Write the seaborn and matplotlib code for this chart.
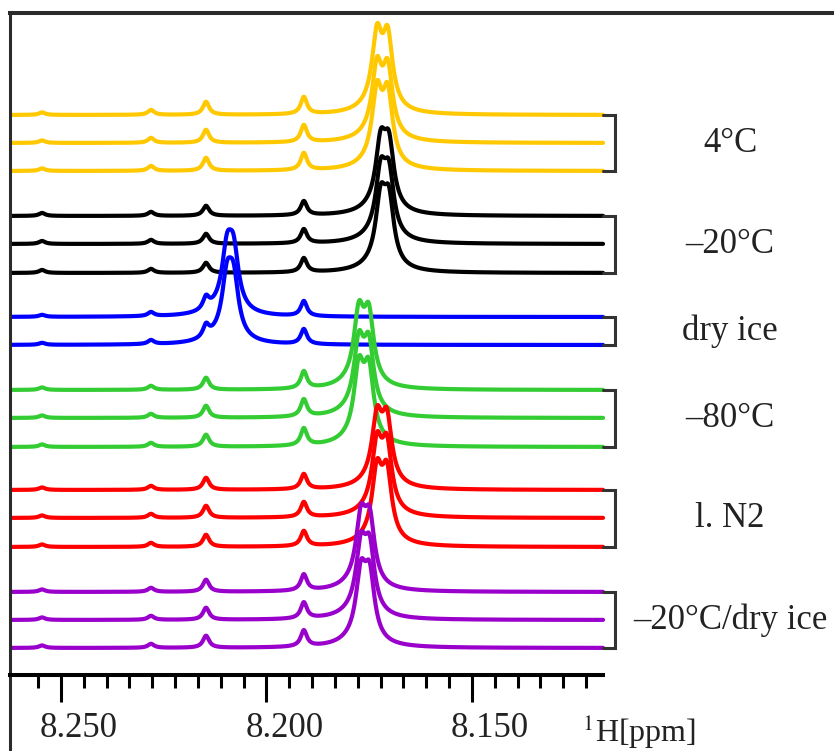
# Espectros 1H apilados: región 8.26 - 8.12 ppm para distintas condiciones de almacenamiento
import numpy as np
import pandas as pd
import seaborn as sns
import matplotlib.pyplot as plt
from matplotlib.transforms import ScaledTranslation, blended_transform_factory

# ---------------- datos ----------------
grupos = ['4°C', '–20°C', 'dry ice', '–80°C', 'l. N2', '–20°C/dry ice']
colores = ['#FFC800', '#000000', '#0000FF', '#33CC33', '#FF0000', '#9900CC']

# linea base de cada espectro (apilado vertical)
desplazamientos = [[636, 608, 580], [535, 507, 478], [434, 406],
                   [361, 333, 304], [261, 233, 204], [159, 131, 103]]
# altura total del pico principal de cada espectro
alturas_pico = [[90, 85, 89], [87, 86, 89], [86, 86],
                [88, 86, 90], [83, 85, 87], [87, 87, 88]]
# doblete principal (ppm)
pico_a = [8.1731, 8.1722, 8.2096, 8.1775, 8.1731, 8.1770]
pico_b = [8.1705, 8.1702, 8.2080, 8.1751, 8.1707, 8.1749]
# picos menores (ppm) y sus alturas por grupo
picos_menores = [8.2546, 8.2281, 8.2147, 8.1909]
alturas_menores = [[2.5, 5, 13, 17], [3, 4, 10, 14], [2, 4, 12, 15],
                   [2.5, 4, 12, 17], [2.5, 4, 12, 15], [2.5, 4, 12, 16]]
hombro = 8          # altura de la base ancha bajo el pico principal

ticks_mayores = [8.250, 8.200, 8.150]
x_izq, x_fin, x_der = 8.2624, 8.1181, 8.0619


def lorentz(x, c, w):
    return 1.0 / (1.0 + ((x - c) / (w / 2)) ** 2)


ppm = np.linspace(x_izq, x_fin, 1600)

filas = []
for g, nombre in enumerate(grupos):
    for k, base in enumerate(desplazamientos[g]):
        doblete = lorentz(ppm, pico_a[g], 0.0029) + lorentz(ppm, pico_b[g], 0.0029)
        doblete = doblete / doblete.max() * (alturas_pico[g][k] - 6)
        base_ancha = hombro * lorentz(ppm, (pico_a[g] + pico_b[g]) / 2 + 0.0014, 0.009)
        menores = sum(h * lorentz(ppm, c, 0.0018)
                      for c, h in zip(picos_menores, alturas_menores[g]))
        y = base + doblete + base_ancha + menores
        filas.append(pd.DataFrame({'ppm': ppm, 'y': y,
                                   'traza': f'{g}-{k}', 'grupo': nombre}))

df = pd.concat(filas, ignore_index=True)
paleta = {f'{g}-{k}': colores[g]
          for g in range(len(grupos)) for k in range(len(desplazamientos[g]))}

# ---------------- figura ----------------
sns.set_style('white')
plt.rcParams['font.family'] = ['Liberation Serif', 'DejaVu Serif']
plt.rcParams['mathtext.fontset'] = 'stix'

fig = plt.figure(figsize=(8.34, 7.51), dpi=100)
ax = fig.add_axes([10 / 834, 0, 1 - 10 / 834, (751 - 13) / 751])

sns.lineplot(data=df, x='ppm', y='y', hue='traza', palette=paleta,
             sort=False, estimator=None, legend=False, linewidth=3.0, ax=ax)

# corchetes y etiquetas de cada grupo
trans = blended_transform_factory(ax.transAxes, ax.transData)
x_corchete = 8.1152
for g, nombre in enumerate(grupos):
    arriba, abajo = desplazamientos[g][0], desplazamientos[g][-1]
    ax.plot([x_fin, x_corchete, x_corchete, x_fin], [arriba, arriba, abajo, abajo],
            color='#333333', lw=2.2, solid_joinstyle='miter')
    ax.text(0.874, (arriba + abajo) / 2, nombre, transform=trans,
            ha='center', va='center', fontsize=25, color='#222222')

ax.set_xlim(x_izq, x_der)
ax.set_ylim(0, 738)
ax.set_xlabel('')
ax.set_ylabel('')
ax.set_yticks([])

ax.spines['right'].set_visible(False)
ax.spines['bottom'].set_position(('data', 76))
ax.spines['bottom'].set_bounds(x_izq, x_fin)
ax.spines['bottom'].set_linewidth(2.9)
ax.spines['bottom'].set_color('black')
ax.spines['top'].set_linewidth(2.9)
ax.spines['top'].set_color('#2b2b2b')
ax.spines['left'].set_linewidth(2.2)
ax.spines['left'].set_color('#2b2b2b')

ax.set_xticks(ticks_mayores)
ax.set_xticklabels([f'{t:.3f}' for t in ticks_mayores])
ax.set_xticks(np.arange(8.25 + 0.05 / 9, x_fin, -0.05 / 9), minor=True)
ax.tick_params(axis='x', which='major', direction='out', length=19.5, width=2.2,
               pad=7, labelsize=25, color='black', labelcolor='#222222', bottom=True)
ax.tick_params(axis='x', which='minor', direction='out', length=9.5, width=2.2,
               color='black', bottom=True)
# las etiquetas del eje quedan algo a la derecha de su marca
for lab in ax.get_xticklabels():
    lab.set_transform(lab.get_transform() + ScaledTranslation(0.18, 0, fig.dpi_scale_trans))

fig.text(582 / 834, 1 - 742 / 751, r'$^{1}$H[ppm]', fontsize=23,
         ha='left', va='baseline', color='#222222')

fig.savefig('out.png', dpi=100)
